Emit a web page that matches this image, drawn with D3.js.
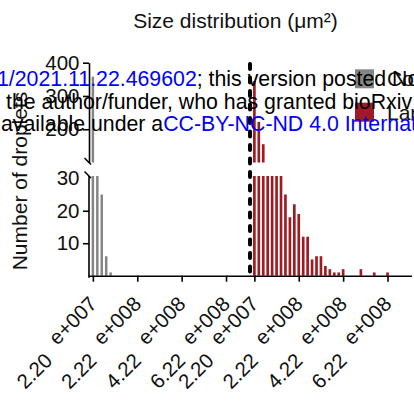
<!DOCTYPE html>
<html>
<head>
<meta charset="utf-8">
<script src="https://cdn.jsdelivr.net/npm/d3@7"></script>
<style>
  body { margin: 0; background: #fff; }
  svg { display: block; font-family: "Liberation Sans", Arial, sans-serif; }
</style>
</head>
<body>
<svg id="chart" width="414" height="405"></svg>
<script>
// ---- data ----
const smallSizes = [2.2e7, 4.2e7, 6.2e7, 8.2e7, 1.02e8];
const smallCounts = [358, 60, 25, 6, 1];
const largeSizes = [2.2e7, 4.2e7, 6.2e7, 8.2e7, 1.02e8, 1.22e8, 1.42e8, 1.62e8, 1.82e8, 2.02e8,
                    2.22e8, 2.42e8, 2.62e8, 2.82e8, 3.02e8, 3.22e8, 3.42e8, 3.62e8, 3.82e8, 4.02e8,
                    4.22e8, 4.42e8, 4.62e8, 4.82e8, 5.02e8, 5.22e8, 5.42e8, 5.62e8, 5.82e8, 6.02e8, 6.22e8];
const largeCounts = [345, 222, 155, 90, 70, 55, 40, 25, 18, 22,
                     19, 12, 12, 5, 6, 6, 3, 2, 1, 1,
                     2, 0, 0, 0, 2, 0, 0, 1, 0, 0, 1];
const xTickValues = [2.2e7, 2.22e8, 4.22e8, 6.22e8];
const xTickMantissa = ["2.20", "2.22", "4.22", "6.22"];
const xTickExponent = ["e+007", "e+008", "e+008", "e+008"];
const yTicksLower = [10, 20, 30];
const yTicksUpper = [200, 300, 400];
const seriesNames = ["Control", "Large"];
const seriesColors = ["#858585", "#9e1b22"];

// ---- layout ----
const svg = d3.select("#chart");
const baseY = 275.7;
const xL = d3.scaleLinear().domain([0, 7.3e8]).range([88, 250]);
const xR = d3.scaleLinear().domain([0, 7.3e8]).range([249.5, 411.5]);
const yLow = d3.scaleLinear().domain([0, 30.7]).range([baseY, 176]);
const yUp = d3.scaleLinear().domain([100, 400]).range([162.5, 62.7]);
const axisX = 89;

// title
svg.append("text").attr("x", 235.5).attr("y", 28).attr("text-anchor", "middle")
  .attr("font-size", 21).attr("fill", "#111").text("Size distribution (μm²)");

// bars
function drawBars(sizes, counts, xs, color, wFrac) {
  const w = (xs(2e7) - xs(0)) * wFrac;
  const g = svg.append("g");
  sizes.forEach((s, i) => {
    const v = counts[i];
    if (v <= 0) return;
    const cx = xs(s);
    const lowTop = yLow(Math.min(v, yLow.domain()[1]));
    g.append("rect").attr("x", cx - w / 2).attr("width", w)
      .attr("y", lowTop).attr("height", baseY - lowTop).attr("fill", color);
    if (v > yUp.domain()[0]) {
      const upTop = yUp(Math.min(v, 400));
      g.append("rect").attr("x", cx - w / 2).attr("width", w)
        .attr("y", upTop).attr("height", yUp(yUp.domain()[0]) - upTop).attr("fill", color);
    }
  });
}
drawBars(smallSizes, smallCounts, xL, seriesColors[0], 0.56);
drawBars(largeSizes, largeCounts, xR, seriesColors[1], 0.6);

// x axes
function xAxis(scale) {
  const g = svg.append("g").attr("transform", `translate(0,${baseY})`)
    .call(d3.axisBottom(scale).tickValues(xTickValues).tickSize(6).tickSizeOuter(0).tickFormat(() => ""));
  g.select(".domain").attr("stroke", "#000").attr("stroke-width", 1.6);
  g.selectAll(".tick line").attr("stroke", "#000").attr("stroke-width", 1.6);
  g.selectAll(".tick").each(function (d, i) {
    const t = d3.select(this).append("text")
      .attr("transform", "translate(4.7,29.5) rotate(-45)")
      .attr("text-anchor", "end").attr("fill", "#111")
      .attr("font-size", 20.5).attr("font-family", "Liberation Sans, Arial, sans-serif");
    t.append("tspan").attr("dy", 8.5).text(xTickMantissa[i]);
    t.append("tspan").attr("dx", 14).attr("dy", -8.5).text(xTickExponent[i]);
  });
}
xAxis(xL);
xAxis(xR);

// y axes
function yAxis(scale, ticks, hideTop) {
  const g = svg.append("g").attr("transform", `translate(${axisX},0)`)
    .call(d3.axisLeft(scale).tickValues(ticks).tickSize(6).tickSizeOuter(0));
  g.select(".domain").attr("stroke", "#000").attr("stroke-width", 1.6);
  g.selectAll(".tick line").attr("stroke", "#000").attr("stroke-width", 1.6);
  g.selectAll(".tick text").attr("font-size", 20.5).attr("fill", "#111")
    .attr("font-family", "Liberation Sans, Arial, sans-serif").attr("x", -9.5);
  if (hideTop) g.selectAll(".tick").filter(d => d === hideTop).select("line").remove();
  return g;
}
yAxis(yUp, yTicksUpper, null);
const gl = yAxis(yLow, yTicksLower, 30);
gl.select(".domain").attr("d", `M0,${yLow.range()[1]}V${baseY + 2}`);

// break marks
[[axisX, yUp.range()[0]], [axisX, yLow.range()[1]]].forEach(([x, y]) => {
  svg.append("line").attr("x1", x - 4.5).attr("y1", y - 4.5).attr("x2", x + 2).attr("y2", y + 2)
    .attr("stroke", "#000").attr("stroke-width", 1.5);
});

// y label
svg.append("text").attr("transform", "translate(27,181) rotate(-90)")
  .attr("text-anchor", "middle").attr("font-size", 21).attr("fill", "#111")
  .text("Number of droplets");

// dashed separator
svg.append("line").attr("x1", 250).attr("x2", 250).attr("y1", 64).attr("y2", 274)
  .attr("stroke", "#000").attr("stroke-width", 4).attr("stroke-linecap", "round")
  .attr("stroke-dasharray", "5 8.5");

// legend
seriesNames.forEach((name, i) => {
  const y0 = 69.3 + i * 33.4;
  svg.append("rect").attr("x", 355).attr("y", y0).attr("width", 19).attr("height", 19)
    .attr("fill", seriesColors[i]);
  svg.append("text").attr("x", 387).attr("y", y0 + 17).attr("font-size", 21)
    .attr("fill", "#111").text(name);
});

// preprint watermark overlay
const wm = svg.append("g").attr("font-size", 21.3);
const l1 = wm.append("text").attr("x", -3).attr("y", 85.7);
l1.append("tspan").attr("fill", "#0000ff").text("1/2021.11.22.469602");
l1.append("tspan").attr("fill", "#000").text("; this version posted November 23, 2021.");
wm.append("text").attr("x", 6).attr("y", 108.5).attr("fill", "#000")
  .text("the author/funder, who has granted bioRxiv a license");
const l3 = wm.append("text").attr("x", 1).attr("y", 131);
l3.append("tspan").attr("fill", "#000").text("available under a");
l3.append("tspan").attr("fill", "#0000ff").text("CC-BY-NC-ND 4.0 International license.");
</script>
</body>
</html>
